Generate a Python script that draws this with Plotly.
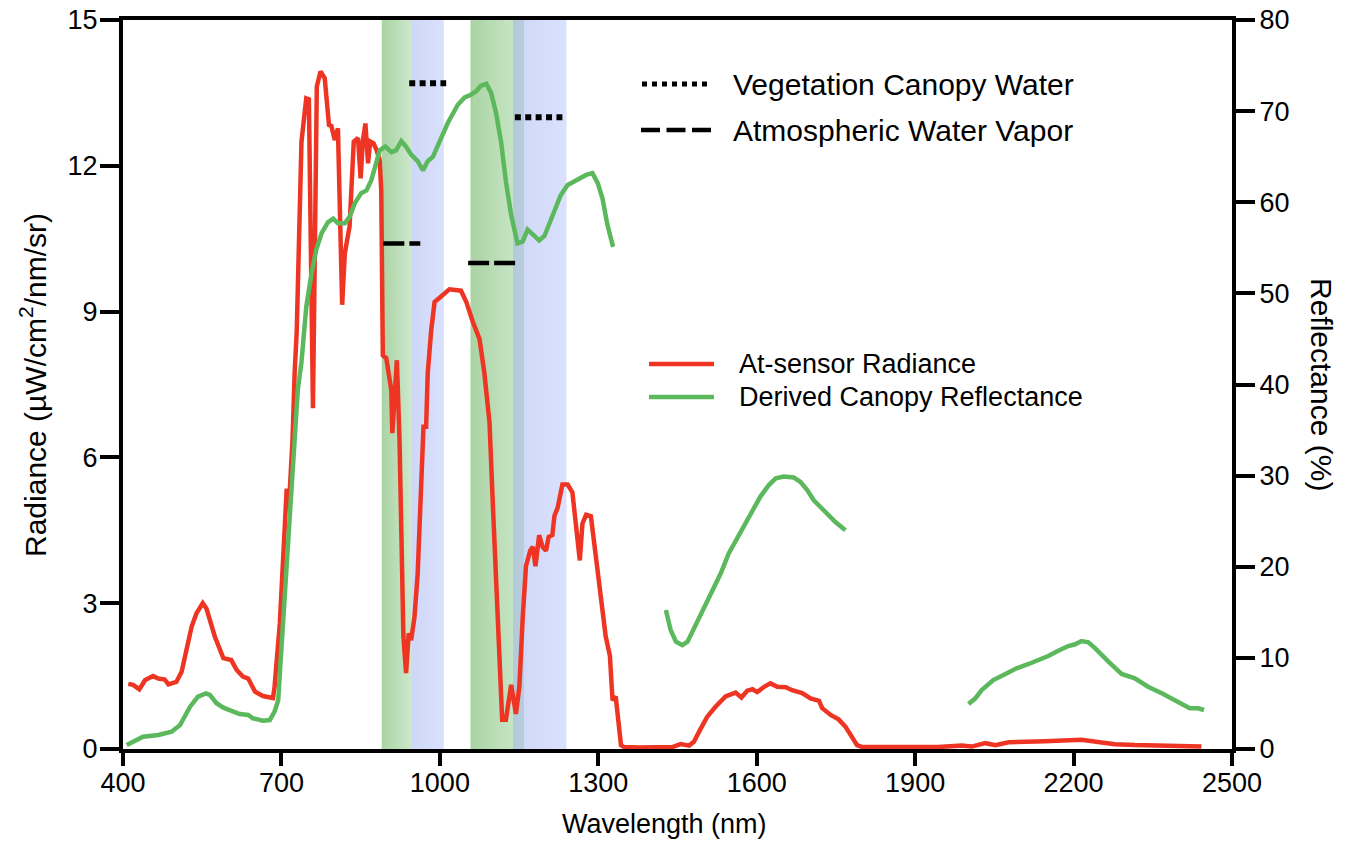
import plotly.graph_objects as go

# ---------------- data ----------------
RAD_WL = [410, 419, 431, 442, 457, 467, 479, 486, 501, 511, 530, 539, 551, 558, 574, 590, 605, 615,
          627, 637, 650, 665, 684, 687, 697, 706, 710, 714, 721, 725, 729, 738, 747, 752, 759.7, 767,
          774, 782, 790, 794.5, 801, 807, 815, 820, 829, 837, 845, 850, 854, 859, 864, 868, 874.5,
          880, 886, 889, 892, 898.5, 901, 908, 910, 916, 918.6, 923.6, 928.7, 931, 936, 941, 945.6,
          952, 958, 964.6, 969, 974, 977, 983.5, 990, 999, 1018, 1040, 1050, 1062, 1075, 1084, 1094,
          1100, 1106, 1113, 1118, 1125, 1135, 1144, 1150.5, 1157, 1163, 1171, 1176, 1181, 1188,
          1194.5, 1201, 1206, 1213, 1217, 1223, 1232, 1242, 1251, 1258, 1265, 1270, 1277, 1286,
          1295.5, 1308, 1314, 1322, 1327, 1333, 1343, 1349, 1377, 1440, 1456, 1472, 1481, 1494,
          1506, 1522, 1541, 1560, 1571, 1582, 1592, 1601, 1614, 1626, 1639, 1655, 1667, 1686, 1702,
          1718, 1724, 1740, 1755, 1768, 1781, 1790, 1800, 1944, 1988, 2007, 2033, 2052, 2077, 2115,
          2146, 2215, 2241, 2278, 2316, 2367, 2442]
RAD_VAL = [1.34, 1.32, 1.23, 1.42, 1.50, 1.45, 1.43, 1.33, 1.38, 1.59, 2.52, 2.79, 3.00, 2.89, 2.31,
           1.87, 1.83, 1.63, 1.49, 1.45, 1.18, 1.09, 1.05, 1.28, 2.59, 4.30, 5.36, 4.95, 6.36, 7.73,
           8.6, 12.5, 13.39, 13.37, 7.01, 13.63, 13.94, 13.8, 12.84, 12.82, 12.53, 12.77, 9.14, 10.2,
           10.75, 12.5, 12.57, 11.74, 12.5, 12.87, 12.05, 12.5, 12.46, 12.33, 12.12, 11.5, 8.1, 8.04,
           7.87, 7.39, 6.5, 7.39, 8.0, 6.36, 3.61, 2.31, 1.56, 2.38, 2.24, 2.72, 3.61, 5.33, 6.63,
           6.63, 7.73, 8.6, 9.2, 9.28, 9.46, 9.43, 9.2, 8.8, 8.44, 7.76, 6.72, 5.12, 3.52, 1.92, 0.6,
           0.6, 1.32, 0.72, 1.28, 2.72, 3.76, 4.08, 4.16, 3.76, 4.4, 4.16, 4.08, 4.36, 4.4, 4.8, 4.96,
           5.44, 5.44, 5.28, 4.64, 3.88, 4.64, 4.82, 4.79, 3.92, 2.88, 2.32, 1.92, 1.0, 1.08, 0.08,
           0.04, 0.03, 0.04, 0.1, 0.07, 0.15, 0.42, 0.66, 0.87, 1.08, 1.16, 1.06, 1.2, 1.23, 1.17,
           1.28, 1.35, 1.28, 1.27, 1.21, 1.15, 1.04, 0.99, 0.84, 0.70, 0.61, 0.46, 0.25, 0.08, 0.04,
           0.04, 0.07, 0.05, 0.12, 0.08, 0.14, 0.16, 0.16, 0.19, 0.15, 0.10, 0.08, 0.06, 0.05]

REF_WL = [407, 419.5, 438, 467, 492, 508, 527, 542, 557, 564.5, 577, 590, 608.5, 621, 637, 646, 665,
          678, 687, 694, 697, 703, 712.5, 722, 731, 738, 747, 757, 766, 776, 788, 798, 807, 820, 829,
          839, 851, 861, 867, 870, 877, 886, 897, 908, 917, 927, 936, 946, 958, 968, 977, 987, 999,
          1015, 1034, 1047, 1059, 1069, 1078, 1088, 1097, 1106, 1116, 1125, 1135, 1144, 1147, 1157,
          1166, 1179, 1188, 1198, 1207, 1217, 1229, 1242, 1255, 1267, 1277, 1289, 1299, 1308, 1317,
          1328,
          None,
          1428, 1437, 1447, 1459, 1469, 1481, 1497, 1513, 1532, 1547, 1566, 1588, 1607, 1623, 1636,
          1651, 1670, 1683, 1696, 1708, 1727, 1749, 1768,
          None,
          2001, 2014, 2026, 2048, 2071, 2092, 2115, 2134, 2152, 2171, 2190, 2203, 2215, 2228, 2241,
          2266, 2291, 2316, 2341, 2367, 2392, 2420, 2436, 2447]
REF_VAL = [0.44, 0.8, 1.35, 1.54, 1.9, 2.63, 4.64, 5.74, 6.11, 5.93, 5.02, 4.54, 4.1, 3.84, 3.73,
           3.37, 3.11, 3.18, 4.1, 5.38, 8.3, 13.8, 22.9, 32.1, 39.4, 42.5, 48.5, 52.2, 54.8, 56.6,
           57.8, 58.2, 57.7, 57.7, 58.4, 59.9, 61.0, 61.3, 62.1, 62.4, 63.8, 65.7, 66.1, 65.5, 65.7,
           66.7, 66.1, 65.2, 64.5, 63.5, 64.5, 65.0, 66.6, 68.7, 70.7, 71.5, 71.8, 72.2, 72.8, 73.0,
           72.0, 69.9, 66.6, 62.3, 58.6, 56.0, 55.5, 55.7, 57.0, 56.3, 55.8, 56.3, 57.6, 59.1, 60.8,
           61.9, 62.3, 62.7, 63.0, 63.2, 62.1, 60.4, 57.6, 55.1,
           None,
           15.25, 13.06, 11.78, 11.41, 11.78, 13.2, 15.07, 16.9, 19.28, 21.47, 23.48, 25.86, 27.7,
           28.97, 29.7, 29.9, 29.8, 29.3, 28.4, 27.3, 26.2, 24.9, 24.0,
           None,
           4.94, 5.56, 6.47, 7.57, 8.23, 8.85, 9.33, 9.73, 10.2, 10.79, 11.3, 11.49, 11.85, 11.7,
           11.05, 9.58, 8.23, 7.76, 6.84, 6.11, 5.38, 4.47, 4.47, 4.28]

# absorption bands (nm)
CANOPY_BANDS = [(890, 948), (1058, 1158)]        # green shaded
VAPOR_BANDS = [(948, 1008), (1139, 1239)]        # blue shaded

# marker segments: (start nm, end nm, radiance level)
CANOPY_WATER_SEG = [(942, 1012, 13.7), (1142, 1232, 13.0)]   # dotted
VAPOR_SEG = [(893, 963, 10.4), (1053.5, 1144, 10.0)]          # dashed

X_TICKS = [400, 700, 1000, 1300, 1600, 1900, 2200, 2500]
YL_TICKS = [0, 3, 6, 9, 12, 15]
YR_TICKS = [0, 10, 20, 30, 40, 50, 60, 70, 80]

RED = "#EE3524"
GREEN = "#5CB85C"
FONT = "Liberation Sans"

# band shading colours (left edge -> right edge of each band)
GREEN_L, GREEN_R = (170, 211, 163), (205, 232, 204)
BLUE_L, BLUE_R = (207, 215, 247), (217, 225, 253)   # as seen over white
BLUE_ALPHA = 0.5


def lerp(c0, c1, t):
    return tuple(c0[i] + (c1[i] - c0[i]) * t for i in range(3))


def band_colour(x):
    col = (255.0, 255.0, 255.0)
    for (a, b) in CANOPY_BANDS:
        if a <= x <= b:
            col = lerp(GREEN_L, GREEN_R, (x - a) / (b - a))
    for (a, b) in VAPOR_BANDS:
        if a <= x <= b:
            seen = lerp(BLUE_L, BLUE_R, (x - a) / (b - a))
            base = tuple((seen[i] - (1 - BLUE_ALPHA) * 255) / BLUE_ALPHA for i in range(3))
            col = tuple(BLUE_ALPHA * base[i] + (1 - BLUE_ALPHA) * col[i] for i in range(3))
    return col


fig = go.Figure()

# shaded bands drawn as a single-row heatmap image per band group (seamless gradient)
for (a, b) in [(min(CANOPY_BANDS[0][0], VAPOR_BANDS[0][0]), max(CANOPY_BANDS[0][1], VAPOR_BANDS[0][1])),
               (min(CANOPY_BANDS[1][0], VAPOR_BANDS[1][0]), max(CANOPY_BANDS[1][1], VAPOR_BANDS[1][1]))]:
    n = int(round(b - a))
    edges = [a + (b - a) * i / n for i in range(n + 1)]
    cols = [band_colour((edges[i] + edges[i + 1]) / 2) for i in range(n)]
    scale = [[i / (n - 1), "rgb(%d,%d,%d)" % tuple(round(v) for v in c)] for i, c in enumerate(cols)]
    fig.add_trace(go.Heatmap(x=edges, y=[0, 15], z=[[i / (n - 1) for i in range(n)]],
                             zmin=0, zmax=1, colorscale=scale, showscale=False, zsmooth=False,
                             hoverinfo="skip"))

# radiance
fig.add_trace(go.Scatter(x=RAD_WL, y=RAD_VAL, mode="lines",
                         line=dict(color=RED, width=4.5), showlegend=False, yaxis="y"))
# reflectance
fig.add_trace(go.Scatter(x=REF_WL, y=REF_VAL, mode="lines", connectgaps=False,
                         line=dict(color=GREEN, width=4.5), showlegend=False, yaxis="y2"))

# dotted / dashed indicator segments
for (a, b, lv) in CANOPY_WATER_SEG:
    fig.add_trace(go.Scatter(x=[a, b], y=[lv, lv], mode="lines",
                             line=dict(color="black", width=6, dash="6px,4.4px"),
                             showlegend=False, hoverinfo="skip"))
for (a, b, lv) in VAPOR_SEG:
    fig.add_trace(go.Scatter(x=[a, b], y=[lv, lv], mode="lines",
                             line=dict(color="black", width=4.5, dash="21px,5px"),
                             showlegend=False, hoverinfo="skip"))

L, R, T, B = 123, 116, 20, 94
W, H = 1348, 843
PW, PH = W - L - R, H - T - B


def px(xp):
    return (xp - L) / PW


def py(yp):
    return (H - B - yp) / PH


shapes = []
# legend samples
shapes.append(dict(type="line", xref="paper", yref="paper", x0=px(642), x1=px(707), y0=py(84), y1=py(84),
                   line=dict(color="black", width=5, dash="5px,5px")))
shapes.append(dict(type="line", xref="paper", yref="paper", x0=px(641), x1=px(711), y0=py(130), y1=py(130),
                   line=dict(color="black", width=4.5, dash="19px,6.5px")))
shapes.append(dict(type="line", xref="paper", yref="paper", x0=px(649), x1=px(714), y0=py(364), y1=py(364),
                   line=dict(color=RED, width=4.5)))
shapes.append(dict(type="line", xref="paper", yref="paper", x0=px(649), x1=px(714), y0=py(397), y1=py(397),
                   line=dict(color=GREEN, width=4.5)))

ann = []
def text(t, x, y, size, **kw):
    d = dict(text=t, xref="paper", yref="paper", x=px(x), y=py(y), showarrow=False,
             font=dict(family=FONT, size=size, color="black"), xanchor="left", yanchor="middle")
    d.update(kw)
    ann.append(d)

text("Vegetation Canopy Water", 731, 84, 30)
text("Atmospheric Water Vapor", 731, 130, 30)
text("At-sensor Radiance", 737, 364, 27)
text("Derived Canopy Reflectance", 737, 397, 27)
text("Wavelength (nm)", 664, 824, 27, xanchor="center")
text("Radiance (µW/cm<sup>2</sup>/nm/sr)", 33, 385, 30, xanchor="center", textangle=-90)
text("Reflectance (%)", 1322, 384, 30, xanchor="center", textangle=90)

axis_common = dict(showgrid=False, zeroline=False, showline=True, linecolor="black", linewidth=4,
                   ticks="outside", tickwidth=4, tickcolor="black", automargin=False,
                   tickfont=dict(family=FONT, size=27, color="black"))

fig.update_layout(
    template="none",
    width=W, height=H, margin=dict(l=L, r=R, t=T, b=B, pad=0),
    paper_bgcolor="white", plot_bgcolor="white",
    xaxis=dict(range=[400, 2500], tickvals=X_TICKS, ticklen=13, mirror=True,
               ticklabelstandoff=-6, **axis_common),
    yaxis=dict(range=[0, 15], tickvals=YL_TICKS, ticklen=19, ticklabelstandoff=-3, **axis_common),
    yaxis2=dict(range=[0, 80], tickvals=YR_TICKS, ticklen=19, overlaying="y", side="right",
                ticklabelstandoff=-1, **axis_common),
    shapes=shapes, annotations=ann, showlegend=False,
)

fig.write_html("out.html")
